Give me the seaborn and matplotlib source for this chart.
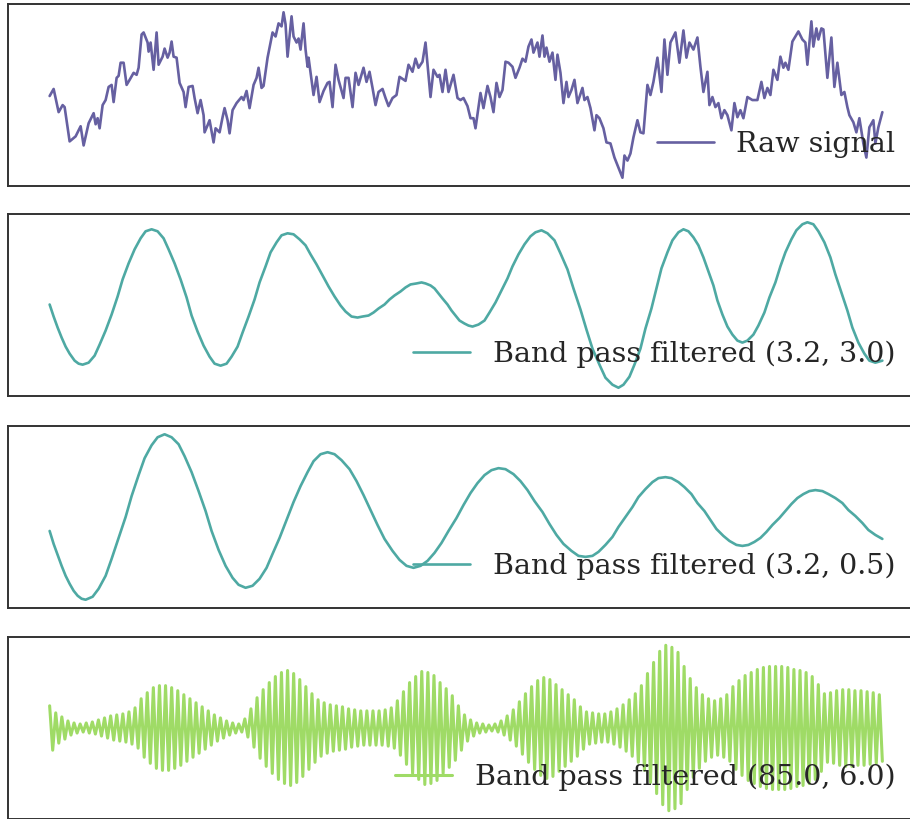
import numpy as np
import matplotlib
matplotlib.use("Agg")
import matplotlib.pyplot as plt
import seaborn as sns

# Sampling rate of the recorded trace (samples per second)
fs = 520.0

# Raw signal: sample index and amplitude (arbitrary units)
raw_idx = [
    0, 4, 9, 13, 15, 20, 26, 31, 34, 39,
    44, 46, 48, 50, 53, 56, 59, 62, 64, 67,
    69, 71, 74, 77, 80, 84, 87, 89, 92, 94,
    98, 99, 101, 104, 107, 109, 113, 115, 118, 120,
    122, 124, 127, 130, 134, 136, 139, 143, 145, 148,
    151, 154, 155, 158, 160, 164, 166, 170, 173, 175,
    178, 180, 183, 187, 192, 194, 197, 200, 204, 207,
    209, 212, 214, 218, 223, 226, 229, 232, 234, 236,
    238, 242, 244, 247, 249, 251, 254, 256, 258, 259,
    264, 267, 270, 274, 278, 280, 283, 286, 289, 294,
    296, 299, 303, 306, 309, 314, 317, 320, 323, 326,
    329, 333, 336, 339, 343, 347, 350, 356, 359, 363,
    366, 369, 373, 376, 378, 381, 384, 388, 390, 393,
    396, 399, 404, 408, 411, 414, 418, 421, 424, 426,
    431, 434, 438, 441, 444, 447, 450, 453, 456, 459,
    463, 466, 470, 473, 476, 479, 482, 484, 488, 490,
    493, 495, 497, 500, 503, 506, 508, 511, 514, 517,
    519, 522, 525, 528, 533, 535, 538, 541, 545, 547,
    550, 554, 557, 561, 565, 569, 573, 575, 578, 581,
    584, 588, 591, 594, 598, 601, 604, 608, 612, 615,
    618, 621, 626, 630, 634, 637, 640, 644, 648, 651,
    654, 658, 660, 663, 666, 669, 672, 675, 678, 682,
    685, 688, 691, 694, 698, 703, 708, 712, 715, 718,
    721, 724, 728, 731, 734, 736, 739, 743, 746, 749,
    753, 756, 758, 762, 764, 767, 769, 772, 774, 778,
    782, 785, 788, 792, 795, 798, 800, 804, 807, 810,
    814, 817, 820, 824, 826, 829, 833,
]
raw_val = [
    0, 7, -16, -9, -11, -45, -40, -30, -49, -27,
    -17, -28, -22, -32, -9, -4, 9, 11, -6, 18,
    20, 33, 33, 11, 16, 23, 21, 28, 61, 63,
    53, 44, 53, 26, 63, 31, 39, 47, 38, 43,
    54, 39, 38, 13, 4, -11, 9, 10, -2, -17,
    -4, -19, -36, -29, -24, -46, -32, -36, -21, -12,
    -24, -37, -14, -7, -1, -4, 5, -12, 11, 18,
    28, 8, 10, 38, 63, 59, 72, 69, 83, 71,
    39, 79, 59, 53, 57, 46, 72, 46, 29, 38,
    1, 19, -6, 5, 13, 14, -11, 31, 16, -2,
    18, 18, -11, 23, 11, 28, 14, 24, 8, -9,
    4, 7, -2, -10, -2, 1, 19, 15, 31, 24,
    37, 28, 34, 53, 31, -1, 26, 19, 21, 4,
    26, 4, 21, -2, -4, -2, -10, -22, -22, -32,
    3, -12, 10, -1, -16, 13, -1, 6, 34, 33,
    29, 18, 28, 37, 34, 49, 56, 43, 53, 39,
    60, 39, 48, 34, 43, 16, 41, 23, -7, 14,
    -1, 6, 16, -7, 8, -4, -1, -12, -34, -19,
    -22, -32, -46, -47, -61, -71, -81, -59, -64, -57,
    -41, -24, -36, -37, 11, 1, 14, 38, 4, 56,
    21, 53, 63, 33, 65, 38, 53, 46, 58, 29,
    4, 24, -9, -1, -11, -7, -22, -14, -19, -34,
    -7, -21, -14, -22, -1, -4, -4, 14, -2, 8,
    1, 26, 16, 39, 28, 33, 26, 54, 59, 64,
    56, 53, 31, 74, 49, 67, 56, 67, 66, 18,
    58, 9, 33, 1, 4, -11, -19, -26, -36, -22,
    -47, -61, -31, -24, -47, -31, -16,
]

# Band pass (3.2 Hz, width 3.0): sample index and amplitude
bp_wide_idx = [
    0, 4, 8, 12, 16, 20, 25, 29, 33,
    39, 45, 50, 56, 62, 68, 73, 79, 85, 91, 96, 102,
    108, 114, 119, 125, 131, 137, 142, 148, 154, 160, 165, 171,
    177, 182, 188, 193, 199, 205, 210, 216, 221, 227, 232, 238,
    244, 250, 256, 261, 267, 273, 279, 285, 291, 296, 302, 308,
    313, 319, 324, 329, 335, 340, 345, 351, 356, 361, 367, 372,
    376, 381, 385, 389, 393, 398, 402, 406, 410, 415, 419, 423,
    429, 435, 440, 446, 452, 458, 463, 469, 475, 481, 486, 492,
    498, 505, 511, 518, 524, 531, 537, 543, 550, 556, 563, 569,
    574, 580, 585, 591, 596, 602, 607, 612, 618, 623, 629, 634,
    639, 644, 649, 654, 659, 664, 668, 673, 678, 683, 688, 693,
    698, 704, 709, 715, 720, 726, 731, 736, 742, 747, 753, 758,
    764, 769, 775, 781, 786, 792, 798, 803, 809, 815, 820, 826,
    833,
]
bp_wide_val = [
    0, -12, -23, -33, -42, -49, -56, -59, -60,
    -58, -51, -40, -26, -10, 8, 25, 41, 55, 66, 73, 75,
    73, 66, 55, 41, 25, 7, -11, -27, -41, -52, -59, -61,
    -59, -52, -42, -28, -12, 5, 22, 38, 52, 62, 69, 71,
    70, 65, 59, 50, 40, 29, 18, 8, -1, -7, -12, -13,
    -12, -11, -8, -4, 0, 5, 9, 13, 17, 20, 21, 22,
    21, 19, 16, 11, 6, 0, -6, -11, -16, -19, -21, -22,
    -20, -16, -8, 2, 14, 26, 38, 50, 60, 68, 72, 74,
    71, 64, 51, 35, 16, -5, -25, -44, -60, -73, -80, -83,
    -80, -72, -60, -44, -24, -4, 16, 36, 52, 64, 72, 75,
    73, 67, 59, 47, 33, 19, 4, -10, -22, -30, -36, -38,
    -36, -30, -21, -8, 7, 22, 38, 52, 65, 74, 80, 82,
    80, 73, 62, 47, 30, 12, -6, -23, -38, -49, -56, -58,
    -56,
]

# Band pass (3.2 Hz, width 0.5): sample index and amplitude
bp_narrow_idx = [
    0, 4, 8, 12, 16, 20, 24, 28, 32, 36,
    43, 49, 56, 62, 69, 76, 82, 89, 95, 102, 108, 115,
    122, 129, 135, 142, 149, 156, 162, 169, 176, 183, 189, 196,
    203, 210, 217, 223, 230, 237, 244, 251, 258, 264, 271, 278,
    285, 292, 300, 307, 314, 321, 328, 335, 343, 350, 357, 364,
    371, 378, 385, 392, 399, 407, 414, 421, 428, 435, 442, 449,
    456, 464, 471, 478, 485, 493, 500, 507, 514, 522, 529, 536,
    543, 549, 556, 563, 569, 576, 583, 589, 596, 603, 609, 616,
    622, 629, 635, 642, 648, 655, 661, 667, 674, 680, 687, 693,
    699, 705, 711, 717, 723, 730, 736, 742, 748, 754, 760, 766,
    773, 779, 786, 793, 799, 806, 813, 819, 826, 833,
]
bp_narrow_val = [
    0, -13, -24, -35, -45, -53, -60, -65, -68, -69,
    -66, -58, -45, -28, -7, 14, 35, 56, 73, 86, 94, 97,
    94, 87, 75, 59, 40, 20, 0, -19, -35, -47, -54, -57,
    -55, -48, -37, -23, -7, 11, 29, 45, 59, 70, 77, 79,
    77, 71, 62, 50, 36, 21, 6, -8, -20, -29, -35, -37,
    -35, -30, -22, -12, 0, 13, 26, 38, 48, 56, 61, 63,
    62, 57, 50, 41, 30, 19, 7, -4, -13, -20, -25, -26,
    -25, -21, -14, -6, 4, 14, 24, 34, 42, 49, 53, 54,
    53, 49, 44, 37, 28, 20, 11, 2, -5, -10, -14, -15,
    -14, -11, -7, -1, 6, 13, 20, 27, 33, 37, 40, 41,
    40, 37, 33, 28, 21, 15, 8, 1, -4, -8,
]

# Band pass (85 Hz, width 6.0): amplitude of each oscillation cycle
hf_freq = 85.0
hf_amp = [
    22, 15, 11, 7, 5, 4, 5, 6, 8, 10,
    12, 13, 14, 16, 20, 29, 35, 40, 42, 42,
    40, 37, 33, 29, 25, 21, 17, 13, 10, 7,
    5, 4, 9, 19, 30, 38, 45, 51, 55, 57,
    54, 48, 41, 34, 28, 25, 23, 22, 21, 19,
    18, 17, 17, 17, 17, 18, 20, 27, 36, 45,
    51, 56, 55, 52, 45, 39, 32, 22, 13, 8,
    5, 4, 3, 4, 7, 12, 18, 26, 34, 41,
    47, 50, 48, 43, 38, 33, 28, 21, 16, 15,
    14, 14, 16, 19, 23, 28, 34, 42, 54, 65,
    76, 82, 80, 75, 61, 49, 40, 33, 29, 27,
    29, 33, 41, 47, 52, 55, 58, 60, 61, 61,
    61, 60, 58, 57, 55, 51, 43, 34, 35, 37,
    38, 38, 37, 37, 36, 35, 33,
]

labels = [
    "Raw signal",
    "Band pass filtered (3.2, 3.0)",
    "Band pass filtered (3.2, 0.5)",
    "Band pass filtered (85.0, 6.0)",
]
colors = ["#6660a1", "#4ea9a3", "#9fdb66"]
widths = [1.9, 1.9, 1.9, 2.2]

sns.set_theme(style="white")
plt.rcParams["font.family"] = ["DejaVu Serif"]

# Peaks and troughs of the 85 Hz component, half a cycle apart
amp = np.asarray(hf_amp, dtype=float)
hf_trace = np.empty(2 * amp.size)
hf_trace[0::2] = amp
hf_trace[1::2] = -amp
hf_time = np.arange(hf_trace.size) / (2 * hf_freq)

series = [
    (np.asarray(raw_idx) / fs, np.asarray(raw_val, dtype=float), colors[0]),
    (np.asarray(bp_wide_idx) / fs, np.asarray(bp_wide_val, dtype=float), colors[1]),
    (np.asarray(bp_narrow_idx) / fs, np.asarray(bp_narrow_val, dtype=float), colors[1]),
    (hf_time, hf_trace, colors[2]),
]

fig = plt.figure(figsize=(9.10, 8.19), dpi=100)
W, H = 910.0, 819.0
left_px, width_px, height_px = 8, 916, 182
tops_px = [4, 214, 426, 637]

for (t, v, c), lw, lbl, top in zip(series, widths, labels, tops_px):
    ax = fig.add_axes([left_px / W, 1 - (top + height_px) / H,
                       width_px / W, height_px / H])
    sns.lineplot(x=t, y=v, ax=ax, color=c, linewidth=lw, label=lbl,
                 estimator=None, sort=False)
    ax.set_xticks([])
    ax.set_yticks([])
    ax.set_xlabel("")
    ax.set_ylabel("")
    for s in ax.spines.values():
        s.set_color("#333333")
        s.set_linewidth(1.4)
    ax.legend(loc="lower right", frameon=False, borderaxespad=0.6,
              prop={"family": "DejaVu Serif", "size": 20.5})

fig.savefig("out.png", dpi=100, facecolor="white")
